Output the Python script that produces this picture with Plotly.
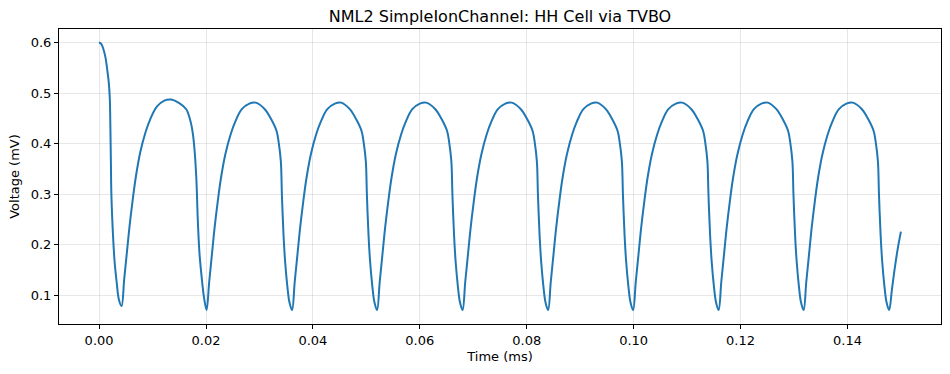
import plotly.graph_objects as go

# Time (ms) and voltage (mV), one line per cycle
time_ms = [
    0.0000, 0.0004, 0.0008, 0.0012, 0.0015, 0.0018, 0.0020, 0.0021, 0.0022, 0.0023, 0.0026, 0.0029, 0.0033, 0.0037,
    0.0042, 0.0047, 0.0052, 0.0057, 0.0063, 0.0069, 0.0077, 0.0087, 0.0096, 0.0108, 0.0122, 0.0135,
    0.0150, 0.0163, 0.0172, 0.0176, 0.0179, 0.0182, 0.0185, 0.0188, 0.0192, 0.0196,
    0.0201, 0.0206, 0.0211, 0.0216, 0.0222, 0.0228, 0.0236, 0.0246, 0.0255, 0.0267, 0.0281, 0.0293,
    0.0310, 0.0322, 0.0332, 0.0336, 0.0340, 0.0342, 0.0345, 0.0348, 0.0352, 0.0356,
    0.0361, 0.0366, 0.0371, 0.0376, 0.0382, 0.0388, 0.0396, 0.0406, 0.0415, 0.0427, 0.0441, 0.0453,
    0.0469, 0.0481, 0.0491, 0.0495, 0.0499, 0.0501, 0.0504, 0.0507, 0.0511, 0.0515,
    0.0520, 0.0525, 0.0530, 0.0535, 0.0541, 0.0547, 0.0555, 0.0565, 0.0574, 0.0586, 0.0600, 0.0612,
    0.0629, 0.0641, 0.0651, 0.0655, 0.0659, 0.0661, 0.0664, 0.0667, 0.0671, 0.0675,
    0.0680, 0.0685, 0.0690, 0.0695, 0.0701, 0.0707, 0.0715, 0.0725, 0.0734, 0.0746, 0.0760, 0.0772,
    0.0789, 0.0801, 0.0811, 0.0815, 0.0819, 0.0821, 0.0824, 0.0827, 0.0831, 0.0835,
    0.0840, 0.0845, 0.0850, 0.0855, 0.0861, 0.0867, 0.0875, 0.0885, 0.0894, 0.0906, 0.0920, 0.0932,
    0.0948, 0.0960, 0.0970, 0.0974, 0.0978, 0.0980, 0.0983, 0.0986, 0.0990, 0.0994,
    0.0999, 0.1004, 0.1009, 0.1014, 0.1020, 0.1026, 0.1034, 0.1044, 0.1053, 0.1065, 0.1079, 0.1091,
    0.1108, 0.1120, 0.1130, 0.1134, 0.1138, 0.1140, 0.1143, 0.1146, 0.1150, 0.1154,
    0.1159, 0.1164, 0.1169, 0.1174, 0.1180, 0.1186, 0.1194, 0.1204, 0.1213, 0.1225, 0.1239, 0.1251,
    0.1267, 0.1279, 0.1289, 0.1293, 0.1297, 0.1299, 0.1302, 0.1305, 0.1309, 0.1313,
    0.1318, 0.1323, 0.1328, 0.1333, 0.1339, 0.1345, 0.1353, 0.1363, 0.1372, 0.1384, 0.1398, 0.1410,
    0.1427, 0.1439, 0.1449, 0.1453, 0.1457, 0.1459, 0.1462, 0.1465, 0.1469, 0.1473,
    0.1478, 0.1483, 0.1488, 0.1494, 0.1500,
]
voltage_mv = [
    0.600, 0.597, 0.587, 0.570, 0.548, 0.522, 0.490, 0.440, 0.370, 0.299, 0.220, 0.167, 0.125, 0.092,
    0.079, 0.132, 0.185, 0.237, 0.290, 0.336, 0.383, 0.423, 0.449, 0.473, 0.485, 0.487,
    0.480, 0.468, 0.440, 0.415, 0.382, 0.329, 0.240, 0.180, 0.135, 0.098,
    0.071, 0.127, 0.180, 0.233, 0.286, 0.332, 0.378, 0.418, 0.444, 0.468, 0.479, 0.481,
    0.468, 0.448, 0.425, 0.402, 0.365, 0.299, 0.220, 0.167, 0.120, 0.087,
    0.071, 0.127, 0.180, 0.233, 0.286, 0.332, 0.378, 0.418, 0.444, 0.468, 0.479, 0.481,
    0.468, 0.448, 0.425, 0.402, 0.365, 0.299, 0.220, 0.167, 0.120, 0.087,
    0.071, 0.127, 0.180, 0.233, 0.286, 0.332, 0.378, 0.418, 0.444, 0.468, 0.479, 0.481,
    0.468, 0.448, 0.425, 0.402, 0.365, 0.299, 0.220, 0.167, 0.120, 0.087,
    0.071, 0.127, 0.180, 0.233, 0.286, 0.332, 0.378, 0.418, 0.444, 0.468, 0.479, 0.481,
    0.468, 0.448, 0.425, 0.402, 0.365, 0.299, 0.220, 0.167, 0.120, 0.087,
    0.071, 0.127, 0.180, 0.233, 0.286, 0.332, 0.378, 0.418, 0.444, 0.468, 0.479, 0.481,
    0.468, 0.448, 0.425, 0.402, 0.365, 0.299, 0.220, 0.167, 0.120, 0.087,
    0.071, 0.127, 0.180, 0.233, 0.286, 0.332, 0.378, 0.418, 0.444, 0.468, 0.479, 0.481,
    0.468, 0.448, 0.425, 0.402, 0.365, 0.299, 0.220, 0.167, 0.120, 0.087,
    0.071, 0.127, 0.180, 0.233, 0.286, 0.332, 0.378, 0.418, 0.444, 0.468, 0.479, 0.481,
    0.468, 0.448, 0.425, 0.402, 0.365, 0.299, 0.220, 0.167, 0.120, 0.087,
    0.071, 0.127, 0.180, 0.233, 0.286, 0.332, 0.378, 0.418, 0.444, 0.468, 0.479, 0.481,
    0.468, 0.448, 0.425, 0.402, 0.365, 0.299, 0.220, 0.167, 0.120, 0.087,
    0.071, 0.110, 0.150, 0.192, 0.226,
]

x_ticks = [0.00, 0.02, 0.04, 0.06, 0.08, 0.10, 0.12, 0.14]
x_tick_labels = ["0.00", "0.02", "0.04", "0.06", "0.08", "0.10", "0.12", "0.14"]
y_ticks = [0.1, 0.2, 0.3, 0.4, 0.5, 0.6]
y_tick_labels = ["0.1", "0.2", "0.3", "0.4", "0.5", "0.6"]

FONT = "DejaVu Sans"

fig = go.Figure()
fig.add_trace(go.Scatter(
    x=time_ms, y=voltage_mv, mode="lines",
    line=dict(color="#1f77b4", width=2, shape="spline", smoothing=1.0),
    showlegend=False,
))

axis_common = dict(
    showline=True, linecolor="black", linewidth=1, mirror=True,
    ticks="outside", ticklen=4, tickwidth=1, tickcolor="black",
    showgrid=True, gridcolor="rgba(176,176,176,0.3)", gridwidth=1,
    zeroline=False, automargin=False,
    tickfont=dict(family=FONT, size=13, color="black"),
)

fig.update_layout(
    width=950, height=374,
    margin=dict(l=59, r=9, t=29, b=50),
    paper_bgcolor="white", plot_bgcolor="white",
    font=dict(family=FONT, color="black"),
    title=dict(text="NML2 SimpleIonChannel: HH Cell via TVBO", x=0.5, xanchor="center",
               xref="paper", yref="container", y=0.957, yanchor="middle",
               font=dict(family=FONT, size=16, color="black")),
    xaxis=dict(range=[-0.0075, 0.1575], tickvals=x_ticks, ticktext=x_tick_labels,
               title=dict(text="Time (ms)", font=dict(family=FONT, size=13), standoff=5),
               **axis_common),
    yaxis=dict(range=[0.0435, 0.6265], tickvals=y_ticks, ticktext=y_tick_labels,
               title=dict(text="Voltage (mV)", font=dict(family=FONT, size=13), standoff=8),
               **axis_common),
)

fig.write_html("out.html", config={"displayModeBar": False},
               post_script="document.body.style.margin='0';")
